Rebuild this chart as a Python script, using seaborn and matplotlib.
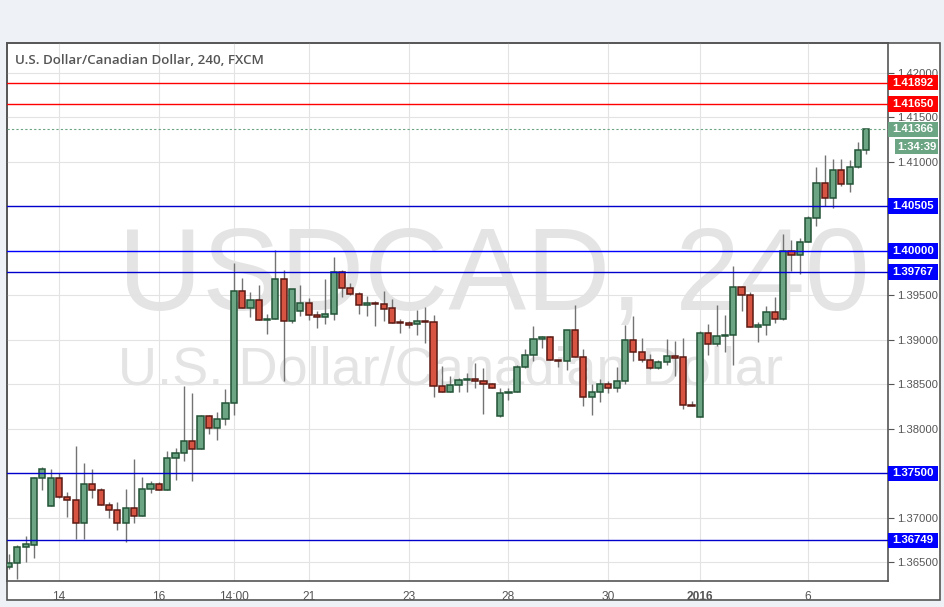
import numpy as np
import pandas as pd
import matplotlib
matplotlib.use('Agg')
import matplotlib.pyplot as plt
import matplotlib.transforms as mtransforms
from matplotlib.patches import Rectangle
from matplotlib import font_manager
import seaborn as sns

# ── 4h candles, USD/CAD ──────────────────────────────────────────
opens = [
    1.3645, 1.3649, 1.3667, 1.3670, 1.3745, 1.3714, 1.3745, 1.3724, 1.3720, 1.3694,
    1.3738, 1.3732, 1.3715, 1.3709, 1.3694, 1.3711, 1.3702, 1.3733, 1.3738, 1.3732,
    1.3767, 1.3773, 1.3787, 1.3778, 1.3815, 1.3801, 1.3811, 1.3829, 1.3955, 1.3936,
    1.3945, 1.3923, 1.3924, 1.3968, 1.3921, 1.3933, 1.3942, 1.3928, 1.3926, 1.3929,
    1.3976, 1.3958, 1.3952, 1.3939, 1.3942, 1.3940, 1.3936, 1.3920, 1.3919, 1.3918,
    1.3921, 1.3920, 1.3848, 1.3842, 1.3849, 1.3855, 1.3856, 1.3854, 1.3851, 1.3815,
    1.3840, 1.3842, 1.3870, 1.3883, 1.3901, 1.3903, 1.3878, 1.3876, 1.3911, 1.3881,
    1.3836, 1.3842, 1.3851, 1.3846, 1.3854, 1.3900, 1.3887, 1.3878, 1.3868, 1.3875,
    1.3882, 1.3881, 1.3827, 1.3814, 1.3908, 1.3895, 1.3905, 1.3906, 1.3959, 1.3951,
    1.3915, 1.3917, 1.3932, 1.3924, 1.4000, 1.3995, 1.4010, 1.4037, 1.4076, 1.4059,
    1.4091, 1.4075, 1.4094, 1.4114,
]
highs = [
    1.3660, 1.3670, 1.3680, 1.3746, 1.3757, 1.3755, 1.3751, 1.3729, 1.3781, 1.3762,
    1.3755, 1.3734, 1.3718, 1.3718, 1.3733, 1.3766, 1.3746, 1.3742, 1.3740, 1.3775,
    1.3779, 1.3848, 1.3840, 1.3816, 1.3816, 1.3819, 1.3845, 1.3987, 1.3970, 1.3954,
    1.3962, 1.3929, 1.4001, 1.3979, 1.3957, 1.3962, 1.3947, 1.3933, 1.3969, 1.3993,
    1.3979, 1.3964, 1.3954, 1.3949, 1.3944, 1.3955, 1.3946, 1.3924, 1.3921, 1.3934,
    1.3937, 1.3928, 1.3871, 1.3860, 1.3857, 1.3863, 1.3874, 1.3869, 1.3852, 1.3846,
    1.3846, 1.3872, 1.3890, 1.3916, 1.3905, 1.3905, 1.3878, 1.3911, 1.3939, 1.3890,
    1.3850, 1.3856, 1.3854, 1.3870, 1.3917, 1.3927, 1.3902, 1.3884, 1.3878, 1.3901,
    1.3899, 1.3902, 1.3831, 1.3910, 1.3918, 1.3939, 1.3928, 1.3983, 1.3961, 1.3954,
    1.3920, 1.3938, 1.3948, 1.4019, 1.4012, 1.4015, 1.4039, 1.4094, 1.4108, 1.4103,
    1.4103, 1.4102, 1.4122, 1.4137,
]
lows = [
    1.3643, 1.3632, 1.3650, 1.3655, 1.3731, 1.3714, 1.3723, 1.3701, 1.3676, 1.3676,
    1.3722, 1.3715, 1.3700, 1.3686, 1.3673, 1.3694, 1.3702, 1.3728, 1.3731, 1.3732,
    1.3743, 1.3764, 1.3742, 1.3777, 1.3794, 1.3788, 1.3804, 1.3816, 1.3936, 1.3926,
    1.3923, 1.3907, 1.3924, 1.3854, 1.3919, 1.3927, 1.3922, 1.3913, 1.3918, 1.3923,
    1.3948, 1.3951, 1.3929, 1.3927, 1.3916, 1.3921, 1.3919, 1.3908, 1.3914, 1.3906,
    1.3897, 1.3836, 1.3842, 1.3842, 1.3842, 1.3842, 1.3846, 1.3817, 1.3846, 1.3814,
    1.3833, 1.3842, 1.3869, 1.3876, 1.3891, 1.3877, 1.3870, 1.3866, 1.3881, 1.3826,
    1.3816, 1.3830, 1.3840, 1.3842, 1.3851, 1.3876, 1.3875, 1.3867, 1.3867, 1.3872,
    1.3860, 1.3823, 1.3826, 1.3813, 1.3883, 1.3893, 1.3886, 1.3872, 1.3933, 1.3915,
    1.3898, 1.3906, 1.3919, 1.3922, 1.3977, 1.3974, 1.4010, 1.4028, 1.4051, 1.4048,
    1.4073, 1.4066, 1.4093, 1.4109,
]
closes = [
    1.3649, 1.3667, 1.3671, 1.3745, 1.3755, 1.3745, 1.3724, 1.3720, 1.3694, 1.3738,
    1.3732, 1.3715, 1.3709, 1.3694, 1.3711, 1.3702, 1.3733, 1.3738, 1.3732, 1.3767,
    1.3773, 1.3787, 1.3778, 1.3815, 1.3801, 1.3811, 1.3829, 1.3955, 1.3936, 1.3945,
    1.3923, 1.3924, 1.3968, 1.3921, 1.3957, 1.3942, 1.3928, 1.3926, 1.3929, 1.3976,
    1.3958, 1.3952, 1.3939, 1.3942, 1.3940, 1.3935, 1.3919, 1.3919, 1.3917, 1.3921,
    1.3920, 1.3848, 1.3842, 1.3849, 1.3855, 1.3856, 1.3854, 1.3851, 1.3846, 1.3840,
    1.3842, 1.3870, 1.3883, 1.3901, 1.3903, 1.3877, 1.3876, 1.3911, 1.3881, 1.3836,
    1.3842, 1.3851, 1.3846, 1.3854, 1.3900, 1.3887, 1.3878, 1.3868, 1.3875, 1.3882,
    1.3880, 1.3827, 1.3826, 1.3908, 1.3895, 1.3905, 1.3906, 1.3959, 1.3951, 1.3915,
    1.3917, 1.3932, 1.3924, 1.4000, 1.3995, 1.4010, 1.4037, 1.4076, 1.4059, 1.4091,
    1.4075, 1.4094, 1.4114, 1.41366,
]

# time axis: candle index of each date label
tick_pos  = [6, 18, 27, 36, 48, 60, 72, 83, 96]
tick_lbls = ['14', '16', '14:00', '21', '23', '28', '30', '2016', '6']

# horizontal levels drawn on the chart
level_vals   = [1.41892, 1.41650, 1.40505, 1.40000, 1.39767, 1.37500, 1.36749]
level_colors = ['#ff0000', '#ff0000', '#0000cc', '#0000ff', '#0000cc', '#0000cc', '#0000cc']
level_boxes  = ['#ff0000', '#ff0000', '#0000ff', '#0000ff', '#0000ff', '#0000ff', '#0000ff']

last_price = 1.41366
countdown  = '1:34:39'
title      = 'U.S. Dollar/Canadian Dollar, 240, FXCM'
wm_symbol  = 'USDCAD, 240'
wm_name    = 'U.S. Dollar/Canadian Dollar'

UP_FILL, UP_EDGE = '#6ba583', '#225437'
DN_FILL, DN_EDGE = '#d75442', '#5b1a13'
TXT = '#555555'

sns.set_style('white')
plt.rcParams['font.family'] = ['Liberation Sans', 'DejaVu Sans']

names = {f.name for f in font_manager.fontManager.ttflist}
narrow = 'Liberation Sans Narrow' in names

df = pd.DataFrame({'open': opens, 'high': highs, 'low': lows, 'close': closes})
df['idx'] = np.arange(len(df))
df['up'] = df['close'] >= df['open']
df['bottom'] = df[['open', 'close']].min(axis=1)
df['height'] = (df['close'] - df['open']).abs()

W, H = 945, 607
def fx(px): return px / W
def fy(py): return 1 - py / H

fig = plt.figure(figsize=(W / 100, H / 100), dpi=100)
fig.patch.set_facecolor('#eef2f6')
fig.patches.append(Rectangle((fx(7), fy(600)), fx(940) - fx(7), fy(43) - fy(600),
                             transform=fig.transFigure, facecolor='white',
                             edgecolor=TXT, lw=1.2, zorder=-10))

ax = fig.add_axes([fx(7), fy(581), fx(888) - fx(7), fy(43) - fy(581)])
ax.set_zorder(1)
ax.set_facecolor('none')
ax.set_xlim(-0.25, 105.6)
ax.set_ylim(1.36292, 1.42337)

# watermark
if narrow:
    ax.text(0.126, 0.503, wm_symbol, transform=ax.transAxes, fontsize=112,
            family='Liberation Sans Narrow', color='#e4e4e4', zorder=0.5)
    ax.text(0.126, 0.366, wm_name, transform=ax.transAxes, fontsize=49,
            family='Liberation Sans Narrow', color='#e4e4e4', zorder=0.5)
else:
    ax.text(0.126, 0.503, wm_symbol, transform=ax.transAxes, fontsize=84,
            color='#e4e4e4', zorder=0.5)
    ax.text(0.126, 0.366, wm_name, transform=ax.transAxes, fontsize=39,
            color='#e4e4e4', zorder=0.5)

# grid
ax.grid(True, color='#e3e3e3', lw=0.8, zorder=0)
ax.set_axisbelow(True)

# candles
ax.vlines(df['idx'], df['low'], df['high'], color='#737373', lw=1.0, zorder=3)
up, dn = df[df['up']], df[~df['up']]
ax.bar(up['idx'], up['height'], bottom=up['bottom'], width=0.74,
       color=UP_FILL, edgecolor=UP_EDGE, lw=1.1, zorder=4)
ax.bar(dn['idx'], dn['height'], bottom=dn['bottom'], width=0.74,
       color=DN_FILL, edgecolor=DN_EDGE, lw=1.1, zorder=4)

# levels
for v, c in zip(level_vals, level_colors):
    ax.axhline(v, color=c, lw=1.0, zorder=5)
ax.axhline(last_price, color=UP_FILL, lw=0.8, ls=(0, (2, 2)), zorder=5)

# price axis (labels under a tag are left out, they are hidden there anyway)
yt = np.arange(1.365, 1.4201, 0.005)
hidden = {'1.37500', '1.40000', '1.40500'}
ax.yaxis.tick_right()
ax.set_yticks(yt)
ax.set_yticklabels(['' if f'{v:.5f}' in hidden else f'{v:.5f}' for v in yt])
ax.set_xticks(tick_pos)
ax.set_xticklabels(tick_lbls)
for lbl in ax.get_xticklabels():
    if lbl.get_text() == '2016':
        lbl.set_fontweight('bold')
ax.tick_params(axis='both', colors=TXT, length=4, width=0.8)
ax.tick_params(axis='x', labelsize=8.6, pad=3)
ax.tick_params(axis='y', labelsize=8.1, pad=2.5)
for s in ax.spines.values():
    s.set_color(TXT)
    s.set_linewidth(1.2)

# price tags on the right
trans = mtransforms.blended_transform_factory(ax.transAxes, ax.transData)
x0, x1 = 1.0, (938 - 7) / 881
half = 7.8 / 8900

def tag(y, text, color, left=x0):
    ax.add_patch(Rectangle((left, y - half), x1 - left, 2 * half, transform=trans,
                           facecolor=color, edgecolor='none', clip_on=False, zorder=10))
    ax.text((left + x1) / 2, y, text, transform=trans, ha='center', va='center',
            color='white', fontsize=8.2, fontweight='bold', clip_on=False, zorder=11)

for v, c in zip(level_vals, level_boxes):
    tag(v, f'{v:.5f}', c)
tag(last_price, f'{last_price:.5f}', UP_FILL)
tag(last_price - 17.2 / 8900, countdown, UP_FILL, left=(895 - 7) / 881)

fig.text(fx(15), fy(61), title, ha='left', va='center', fontsize=9.6,
         family=['Open Sans', 'DejaVu Sans'], fontweight='semibold', color=TXT)

plt.savefig('out.png', dpi=100, facecolor=fig.get_facecolor())
